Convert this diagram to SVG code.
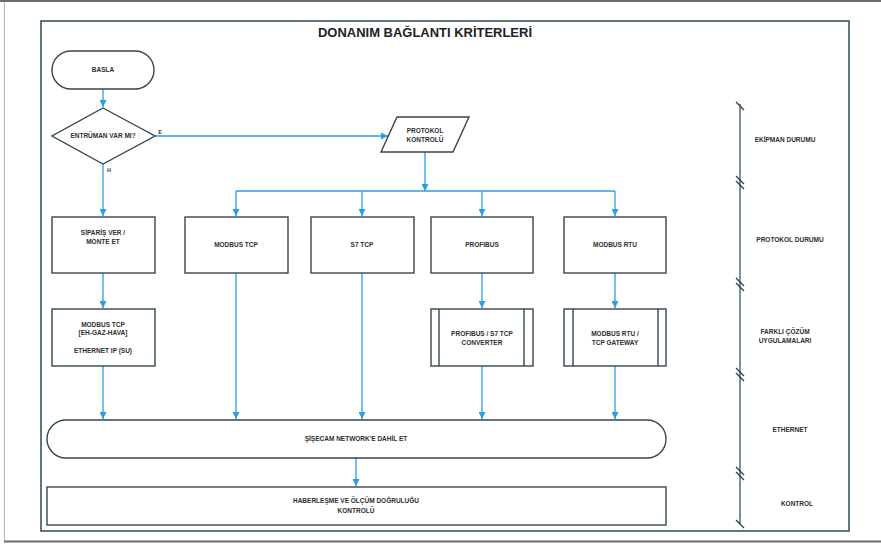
<svg xmlns="http://www.w3.org/2000/svg" width="881" height="544" viewBox="0 0 881 544">
  <style>
    .box { fill: #ffffff; stroke: #34474f; stroke-width: 1.4; }
    .conn { fill: none; stroke: #2a9fe0; stroke-width: 1.3; }
    .lbl { font-family: "Liberation Sans", Arial, sans-serif; font-size: 6.5px; font-weight: bold; fill: #2b2f33; text-anchor: middle; }
    .side { font-family: "Liberation Sans", Arial, sans-serif; font-size: 6.5px; font-weight: bold; fill: #2b2f33; text-anchor: middle; }
    .title { font-family: "Liberation Sans", Arial, sans-serif; font-size: 13.5px; font-weight: bold; fill: #222222; text-anchor: middle; }
    .brk { stroke: #2d3f46; stroke-width: 1.2; }
  </style>
  <defs>
    <marker id="arrow" viewBox="0 0 10 10" refX="10" refY="5" markerWidth="7" markerHeight="7" markerUnits="userSpaceOnUse" orient="auto">
      <path d="M0,0 L10,5 L0,10 z" fill="#2a9fe0"/>
    </marker>
  </defs>

  <!-- page edges -->
  <rect x="0" y="0" width="881" height="544" fill="#ffffff"/>
  <rect x="0" y="0" width="881" height="2" fill="#6e6e6e"/>
  <line x1="4.5" y1="2" x2="4.5" y2="541" stroke="#b5b5b5" stroke-width="1"/>
  <rect x="4" y="540.5" width="877" height="2" fill="#6a6a6a"/>

  <!-- outer frame -->
  <rect x="41" y="21" width="808" height="510" fill="none" stroke="#2d4a54" stroke-width="1.5"/>

  <text class="title" x="425" y="37" textLength="214" lengthAdjust="spacingAndGlyphs">DONANIM BAĞLANTI KRİTERLERİ</text>

  <!-- connectors -->
  <g id="connectors">
    <path class="conn" d="M103,89 V107" marker-end="url(#arrow)"/>
    <path class="conn" d="M155,136 H388" marker-end="url(#arrow)"/>
    <path class="conn" d="M103,164 V216" marker-end="url(#arrow)"/>
    <path class="conn" d="M425,152 V191" marker-end="url(#arrow)"/>
    <path class="conn" d="M236,191 H615"/>
    <path class="conn" d="M236,191 V216" marker-end="url(#arrow)"/>
    <path class="conn" d="M362,191 V216" marker-end="url(#arrow)"/>
    <path class="conn" d="M482,191 V216" marker-end="url(#arrow)"/>
    <path class="conn" d="M615,191 V216" marker-end="url(#arrow)"/>
    <path class="conn" d="M103,273 V308" marker-end="url(#arrow)"/>
    <path class="conn" d="M482,273 V308" marker-end="url(#arrow)"/>
    <path class="conn" d="M615,273 V308" marker-end="url(#arrow)"/>
    <path class="conn" d="M103,366 V419" marker-end="url(#arrow)"/>
    <path class="conn" d="M236,273 V419" marker-end="url(#arrow)"/>
    <path class="conn" d="M362,273 V419" marker-end="url(#arrow)"/>
    <path class="conn" d="M482,366 V419" marker-end="url(#arrow)"/>
    <path class="conn" d="M615,366 V419" marker-end="url(#arrow)"/>
    <path class="conn" d="M356,458 V486" marker-end="url(#arrow)"/>
    <text class="lbl" x="160" y="134" style="font-size:5.5px">E</text>
    <text class="lbl" x="109" y="172" style="font-size:5.5px">H</text>
  </g>

  <!-- flow nodes -->
  <g id="start">
    <rect class="box" x="52" y="51" width="102" height="38" rx="19" ry="19"/>
    <text class="lbl" x="103" y="72">BASLA</text>
  </g>

  <g id="decision">
    <polygon class="box" points="103,108 155,136 103,164 52,136"/>
    <text class="lbl" x="103" y="138">ENTRÜMAN VAR MI?</text>
  </g>

  <g id="protocol-check">
    <polygon class="box" points="397,117 469,117 453,152 381,152"/>
    <text class="lbl" x="425" y="133">PROTOKOL</text>
    <text class="lbl" x="425" y="142">KONTROLÜ</text>
  </g>

  <g id="order">
    <rect class="box" x="52" y="217" width="103" height="56"/>
    <text class="lbl" x="103" y="235">SİPARİŞ VER /</text>
    <text class="lbl" x="103" y="244">MONTE ET</text>
  </g>

  <g id="modbus-tcp">
    <rect class="box" x="185" y="217" width="103" height="56"/>
    <text class="lbl" x="236" y="247">MODBUS TCP</text>
  </g>

  <g id="s7-tcp">
    <rect class="box" x="311" y="217" width="103" height="56"/>
    <text class="lbl" x="362" y="247">S7 TCP</text>
  </g>

  <g id="profibus">
    <rect class="box" x="431" y="217" width="102" height="56"/>
    <text class="lbl" x="482" y="247">PROFIBUS</text>
  </g>

  <g id="modbus-rtu">
    <rect class="box" x="564" y="217" width="102" height="56"/>
    <text class="lbl" x="615" y="247">MODBUS RTU</text>
  </g>

  <g id="ordered-protocols">
    <rect class="box" x="52" y="309" width="103" height="57"/>
    <text class="lbl" x="103" y="327">MODBUS TCP</text>
    <text class="lbl" x="103" y="335">[EH-GAZ-HAVA]</text>
    <text class="lbl" x="103" y="353">ETHERNET IP (SU)</text>
  </g>

  <g id="profibus-converter">
    <rect class="box" x="431" y="309" width="102" height="57"/>
    <line class="box" x1="439" y1="309" x2="439" y2="366"/>
    <line class="box" x1="524" y1="309" x2="524" y2="366"/>
    <text class="lbl" x="482" y="336">PROFIBUS / S7 TCP</text>
    <text class="lbl" x="482" y="345">CONVERTER</text>
  </g>

  <g id="modbus-gateway">
    <rect class="box" x="564" y="309" width="102" height="57"/>
    <line class="box" x1="573" y1="309" x2="573" y2="366"/>
    <line class="box" x1="658" y1="309" x2="658" y2="366"/>
    <text class="lbl" x="615" y="336">MODBUS RTU /</text>
    <text class="lbl" x="615" y="345">TCP GATEWAY</text>
  </g>

  <g id="network">
    <rect class="box" x="47" y="420" width="619" height="38" rx="19" ry="19"/>
    <text class="lbl" x="356" y="441">ŞİŞECAM NETWORK'E DAHİL ET</text>
  </g>

  <g id="verification">
    <rect class="box" x="47" y="487" width="619" height="38"/>
    <text class="lbl" x="356" y="503">HABERLEŞME VE ÖLÇÜM DOĞRULUĞU</text>
    <text class="lbl" x="356" y="513">KONTROLÜ</text>
  </g>

  <!-- stage scale on the right -->
  <g id="stages">
    <line x1="740" y1="104" x2="740" y2="524" stroke="#3a5560" stroke-width="1.3"/>
    <line class="brk" x1="736" y1="102" x2="744" y2="110"/>
    <line class="brk" x1="736" y1="176" x2="744" y2="184"/>
    <line class="brk" x1="736" y1="181" x2="744" y2="189"/>
    <line class="brk" x1="736" y1="278" x2="744" y2="286"/>
    <line class="brk" x1="736" y1="283" x2="744" y2="291"/>
    <line class="brk" x1="736" y1="368" x2="744" y2="376"/>
    <line class="brk" x1="736" y1="373" x2="744" y2="381"/>
    <line class="brk" x1="736" y1="467" x2="744" y2="475"/>
    <line class="brk" x1="736" y1="472" x2="744" y2="480"/>
    <line class="brk" x1="736" y1="520" x2="744" y2="528"/>
    <text class="side" x="785" y="142">EKİPMAN DURUMU</text>
    <text class="side" x="790" y="242">PROTOKOL DURUMU</text>
    <text class="side" x="785" y="334">FARKLI ÇÖZÜM</text>
    <text class="side" x="785" y="343">UYGULAMALARI</text>
    <text class="side" x="790" y="432">ETHERNET</text>
    <text class="side" x="797" y="506">KONTROL</text>
  </g>
</svg>
